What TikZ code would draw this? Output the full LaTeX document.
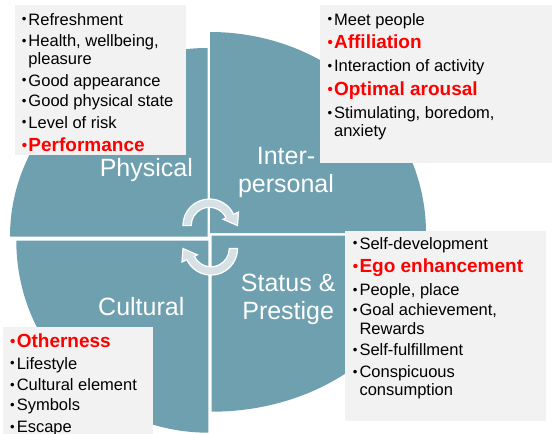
\documentclass[tikz,border=0pt]{standalone}
\usepackage{fontspec}
\setmainfont{Liberation Sans}
\usepackage{graphicx}
\usepackage{tikz}
\usetikzlibrary{positioning}
\definecolor{quadteal}{RGB}{110,160,175}
\definecolor{cardgray}{RGB}{242,242,242}
\definecolor{arrowgray}{RGB}{214,225,229}
\definecolor{keyred}{RGB}{255,0,0}
\newcommand{\itm}{\makebox[6.6pt][l]{\raisebox{0.15ex}{\scalebox{0.8}{\textbullet}}}}
\newcommand{\ind}{\hspace*{6.6pt}}
\newcommand{\headstrut}{\rule{0pt}{14pt}}
\newcommand{\labelstrut}{\rule{0pt}{22pt}}
\newcommand{\key}[1]{{\fontsize{19}{18.3}\selectfont\bfseries\color{keyred}\makebox[6.6pt][l]{\raisebox{0.1ex}{\scalebox{0.8}{\textbullet}}}#1}}

\begin{document}
\begin{tikzpicture}[x=1pt, y=-1pt,
    quad/.style={fill=quadteal},
    quadlabel/.style={text=white, inner sep=0, align=center, font=\fontsize{25}{28}\selectfont},
    card/.style={fill=cardgray, inner sep=0, anchor=north west},
    itemlist/.style={inner sep=0, anchor=north west, align=left, font=\fontsize{16.5}{18.3}\selectfont},
    cyclearrow/.pic={
      \filldraw[fill=arrowgray, draw=white, line width=1.2pt]
        (180:26.6) arc[start angle=180, end angle=335, radius=26.6]
        -- (335:32) -- (0:28) -- (335:15) -- (335:18.3)
        arc[start angle=335, end angle=180, radius=18.3] -- cycle;
    }]
    \useasboundingbox (0,0) rectangle (552,434);
    % Quarter pies
    \fill[quad] (207.7,236.7) -- ++(-197.7,0) arc[start angle=180, end angle=270, x radius=197.7, y radius=188.7] -- cycle;
    \fill[quad] (210,233) -- ++(0,-201) arc[start angle=270, end angle=360, x radius=216, y radius=201] -- cycle;
    \fill[quad] (208.3,240.7) -- ++(-192,0) arc[start angle=180, end angle=90, radius=192] -- cycle;
    \fill[quad] (211.7,235.7) -- ++(215,0) arc[start angle=0, end angle=90, x radius=215, y radius=176] -- cycle;
    % Cycle arrows in the middle
    \pic at (209.5,225.6) {cyclearrow};
    \pic[rotate=180] at (211,248.5) {cyclearrow};
    % Quarter labels
    \node[quadlabel, anchor=base] (physlbl) at (146.3,176.7) {Physical};
    \node[quadlabel, anchor=north] (interlbl) at (286,142) {\labelstrut Inter-\\personal};
    \node[quadlabel, anchor=base] (cultlbl) at (141.3,315) {Cultural};
    \node[quadlabel, anchor=north] (statlbl) at (288.2,269.3) {\labelstrut Status \&\\Prestige};
    % Corner cards
    \node[card, minimum width=171pt, minimum height=150pt] (physcard) at (15,5) {};
    \node[card, minimum width=232pt, minimum height=158pt] (intercard) at (320,5) {};
    \node[card, minimum width=150pt, minimum height=107pt] (cultcard) at (3,327) {};
    \node[card, minimum width=201pt, minimum height=190pt] (statcard) at (345,231) {};
    % Card texts
    \node[itemlist] (physlist) at (21.7,11) {\headstrut\itm Refreshment\\[3pt]
      \itm Health, wellbeing,\\
      \ind pleasure\\[3pt]
      \itm Good appearance\\[2.5pt]
      \itm Good physical state\\[3pt]
      \itm Level of risk\\[5pt]
      \key{Performance}};
    \node[itemlist] (interlist) at (327.3,11) {\headstrut\itm Meet people\\[5pt]
      \key{Affiliation}\\[5pt]
      \itm Interaction of activity\\[5pt]
      \key{Optimal arousal}\\[5pt]
      \itm Stimulating, boredom,\\
      \ind anxiety};
    \node[itemlist] (cultlist) at (10,333.3) {\headstrut\key{Otherness}\\[3.4pt]
      \itm Lifestyle\\[3.4pt]
      \itm Cultural element\\[1.7pt]
      \itm Symbols\\[3.3pt]
      \itm Escape};
    \node[itemlist] (statlist) at (352.7,235) {\headstrut\itm Self-development\\[5pt]
      \key{Ego enhancement}\\[5pt]
      \itm People, place\\[1.7pt]
      \itm Goal achievement,\\
      \ind Rewards\\[3.4pt]
      \itm Self-fulfillment\\[3.3pt]
      \itm Conspicuous\\
      \ind consumption};
\end{tikzpicture}
\end{document}
